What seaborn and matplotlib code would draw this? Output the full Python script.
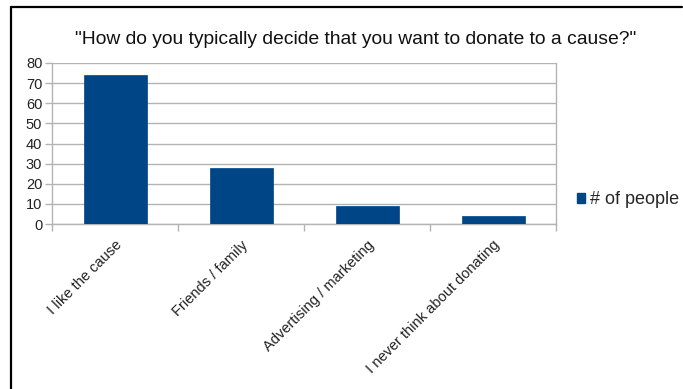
import matplotlib
matplotlib.use("Agg")
import matplotlib.pyplot as plt
from matplotlib.lines import Line2D
from matplotlib.patches import Patch
import seaborn as sns
import pandas as pd

categories = ["I like the cause", "Friends / family", "Advertising / marketing",
              "I never think about donating"]
people = [74, 28, 9, 4]
series_name = "# of people"
title = "\"How do you typically decide that you want to donate to a cause?\""
y_ticks = [0, 10, 20, 30, 40, 50, 60, 70, 80]

sns.set_theme(style="white")
plt.rcParams["font.family"] = ["Liberation Sans", "DejaVu Sans"]

bar_color = "#004586"
grid_color = "#b3b3b3"

df = pd.DataFrame({"answer": categories, "count": people})

W, H = 683, 389
fig = plt.figure(figsize=(W / 100, H / 100), dpi=100)
ax = fig.add_axes([52 / W, 1 - 224 / H, (556 - 52) / W, (224 - 63) / H])

sns.barplot(data=df, x="answer", y="count", color=bar_color, saturation=1,
            width=0.5, ax=ax, edgecolor=bar_color, linewidth=0.5, zorder=3)

ax.set_ylim(0, 80)
ax.set_xlim(-0.5, len(categories) - 0.5)
ax.set_yticks(y_ticks)
ax.yaxis.grid(True, color=grid_color, linewidth=1, zorder=0)
ax.set_axisbelow(True)
ax.set_xlabel("")
ax.set_ylabel("")

for side in ["left", "right", "bottom"]:
    ax.spines[side].set_visible(True)
    ax.spines[side].set_color(grid_color)
    ax.spines[side].set_linewidth(1)
ax.spines["top"].set_visible(False)

# category labels under bar centres, boundary ticks between categories
ax.set_xticks([i for i in range(len(categories))])
ax.set_xticklabels(categories, rotation=45, ha="right", rotation_mode="anchor",
                   fontsize=10.5, color="#222222")
ax.tick_params(axis="x", length=0, pad=10)
ax.set_xticks([i - 0.5 for i in range(len(categories) + 1)], minor=True)
ax.tick_params(axis="x", which="minor", length=5, color=grid_color, width=1,
               direction="out", bottom=True)
ax.tick_params(axis="y", length=5, color=grid_color, width=1, direction="out",
               left=True, labelsize=10.5, labelcolor="#222222", pad=2)

fig.text(356 / W, 1 - 40 / H, title, ha="center", va="center", fontsize=13.9,
         color="#111111")

handle = Patch(facecolor=bar_color, edgecolor=bar_color, label=series_name)
fig.legend(handles=[handle], loc="center left",
           bbox_to_anchor=(577 / W, 1 - 200 / H), frameon=False, fontsize=13,
           handlelength=0.45, handleheight=0.45, handletextpad=0.28,
           borderpad=0, borderaxespad=0)

# outer frame on the top and left edges
fig.add_artist(Line2D([11 / W, 11 / W], [0, 1 - 7 / H], color="black",
                      linewidth=1.6, transform=fig.transFigure))
fig.add_artist(Line2D([11 / W, 682 / W], [1 - 7 / H, 1 - 7 / H], color="black",
                      linewidth=1.6, transform=fig.transFigure))

fig.savefig("out.png", dpi=100, facecolor="white")
